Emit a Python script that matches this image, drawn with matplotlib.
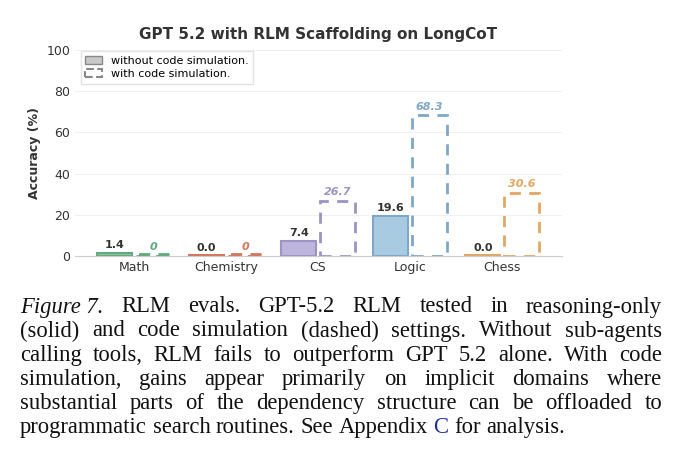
import matplotlib
matplotlib.use("Agg")
import matplotlib.pyplot as plt
from matplotlib.patches import Patch

categories = ["Math", "Chemistry", "CS", "Logic", "Chess"]
without_code = [1.4, 0.0, 7.4, 19.6, 0.0]
with_code = [0, 0, 26.7, 68.3, 30.6]
with_labels = ["0", "0", "26.7", "68.3", "30.6"]
fills = ["#8fc9a3", "#e39a86", "#bdb5dc", "#a9cbe2", "#efc18f"]
edges = ["#62a97e", "#d0775d", "#9c94c4", "#7ea7c8", "#e1a764"]

caption = [
    ("Figure 7.", "RLM evals.  GPT-5.2 RLM tested in reasoning-only"),
    ("", "(solid) and code simulation (dashed) settings. Without sub-agents"),
    ("", "calling tools, RLM fails to outperform GPT 5.2 alone. With code"),
    ("", "simulation, gains appear primarily on implicit domains where"),
    ("", "substantial parts of the dependency structure can be offloaded to"),
    ("", "programmatic search routines. See Appendix C for analysis."),
]

fig = plt.figure(figsize=(6.8, 4.65), dpi=100)
W, H = 680, 465
ax = fig.add_axes([75 / W, 1 - 256 / H, (562 - 75) / W, (256 - 50) / H])

w = 0.38
for i in range(len(categories)):
    # solid bar (min display height so zeros still show)
    ax.bar(i - 0.21, max(without_code[i], 0.5), w, color=fills[i], edgecolor=edges[i], linewidth=1.5)
    ax.text(i - 0.21, without_code[i] + 1.5, f"{without_code[i]:.1f}", ha="center", va="bottom",
            fontsize=8, fontweight="bold", color="#333333")
    ax.bar(i + 0.21, max(with_code[i], 1.0), w, fill=False, edgecolor=edges[i], linewidth=2,
           linestyle=(0, (4, 3)))
    ax.text(i + 0.21, with_code[i] + 1.8, with_labels[i], ha="center", va="bottom",
            fontsize=8, fontweight="bold", fontstyle="italic", color=edges[i])

ax.set_xlim(-0.64, 4.65)
ax.set_ylim(0, 100)
ax.set_yticks(range(0, 101, 20))
ax.set_xticks(range(len(categories)))
ax.set_xticklabels(categories)
ax.tick_params(length=0, labelsize=9, colors="#333333")
ax.yaxis.grid(True, color="#f0f0f0", linewidth=0.8)
ax.set_axisbelow(True)
for s in ["top", "right", "left"]:
    ax.spines[s].set_visible(False)
ax.spines["bottom"].set_color("#cccccc")
ax.set_ylabel("Accuracy (%)", fontsize=9, fontweight="bold", color="#333333")
ax.set_title("GPT 5.2 with RLM Scaffolding on LongCoT", fontsize=11, fontweight="bold",
             color="#333333", pad=8)

handles = [Patch(facecolor="#c8c8c8", edgecolor="#888888", label="without code simulation."),
           Patch(facecolor="none", edgecolor="#888888", linestyle="--", linewidth=1.5,
                 label="with code simulation.")]
ax.legend(handles=handles, loc="upper left", fontsize=8, frameon=True, fancybox=False,
          edgecolor="#dddddd", handlelength=1.5, borderpad=0.4, labelspacing=0.3,
          bbox_to_anchor=(0.0, 1.02))

# caption, justified word by word
fig.canvas.draw()
r = fig.canvas.get_renderer()
x0, x1 = 20, 662
fs = 16.3
ys = [307, 331, 355, 379, 403, 427]
for li, (lead, rest) in enumerate(caption):
    words = []
    if lead:
        words.append((lead, "italic"))
    words += [(t, "normal") for t in rest.split()]
    texts = []
    for t, st in words:
        tx = fig.text(0, 1 - ys[li] / H, t, fontsize=fs, family="Liberation Serif", style=st,
                      va="center", ha="left", color="#111111")
        texts.append(tx)
    widths = [tx.get_window_extent(r).width for tx in texts]
    space = fs * 0.25 * 100 / 72
    if li < len(caption) - 1:
        gap = (x1 - x0 - sum(widths)) / (len(words) - 1)
    else:
        gap = space
    x = x0
    for tx, wd, (t, st) in zip(texts, widths, words):
        tx.set_x(x / W)
        if t == "C":
            tx.set_color("#1f2f9a")
        x += wd + gap

fig.savefig("out.png", dpi=100)
